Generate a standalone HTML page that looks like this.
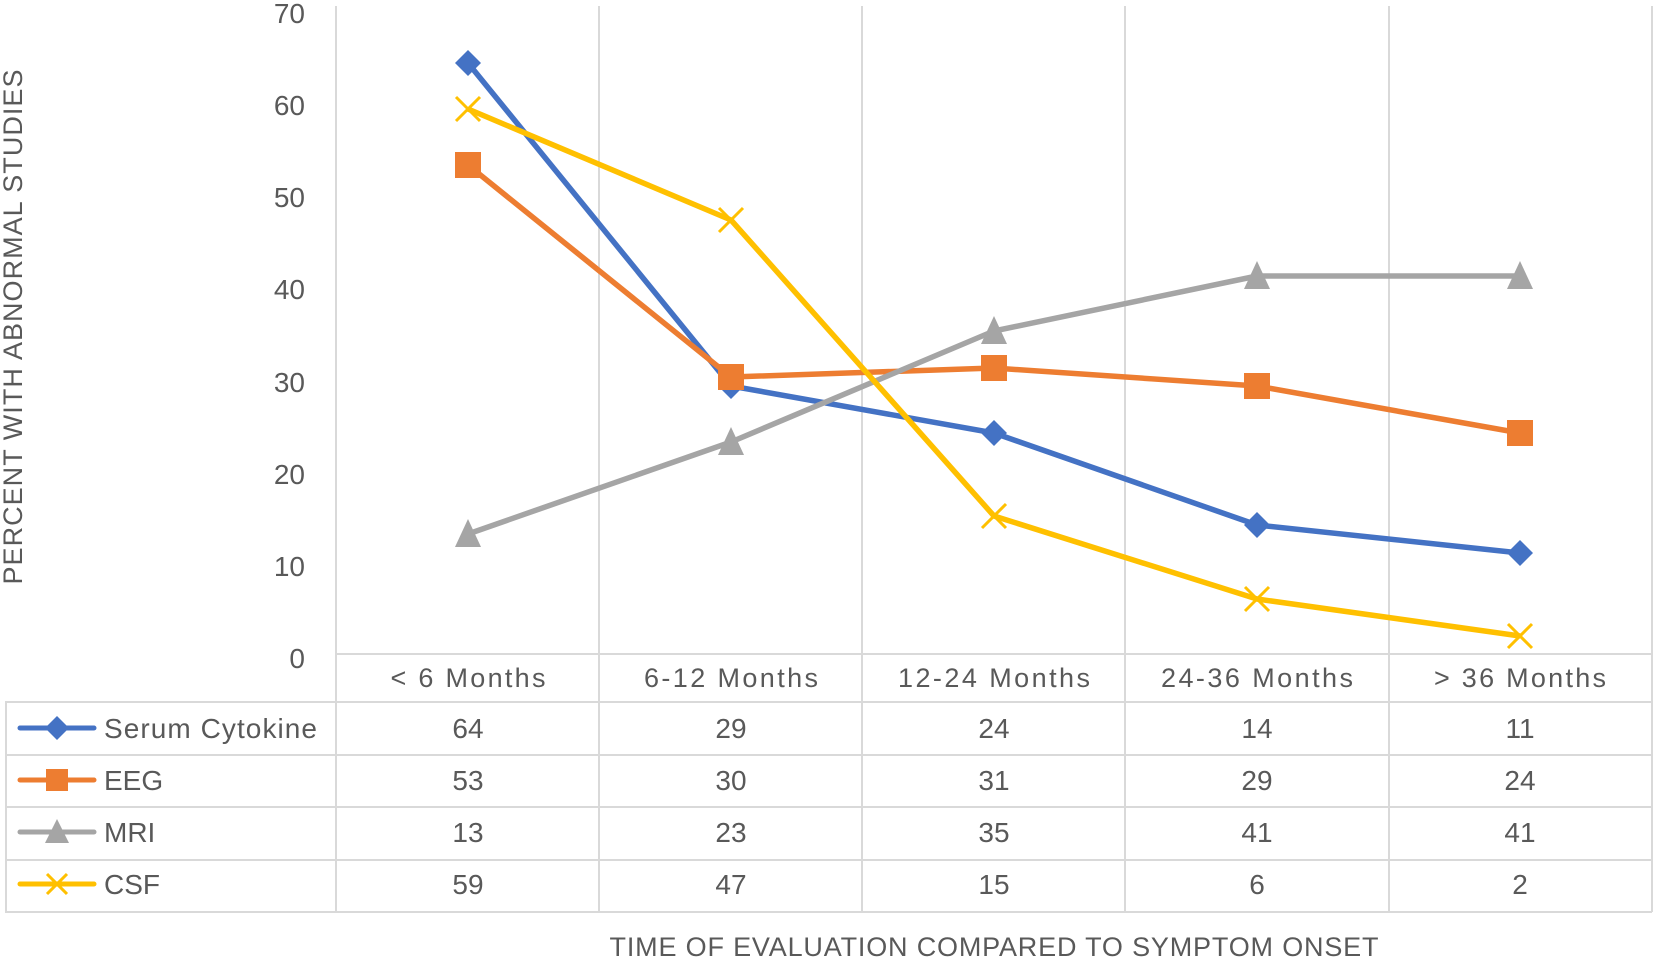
<!DOCTYPE html>
<html><head><meta charset="utf-8"><style>
html,body{margin:0;padding:0;background:#fff;}
svg{display:block;}
text{font-family:"Liberation Sans",sans-serif;fill:#595959;}
</style></head><body>
<svg width="1654" height="960" viewBox="0 0 1654 960">
<g stroke="#d9d9d9" stroke-width="2" fill="none">
<line x1="336" y1="6" x2="336" y2="912"/>
<line x1="599" y1="6" x2="599" y2="912"/>
<line x1="862" y1="6" x2="862" y2="912"/>
<line x1="1125" y1="6" x2="1125" y2="912"/>
<line x1="1389" y1="6" x2="1389" y2="912"/>
<line x1="1652" y1="6" x2="1652" y2="912"/>
<line x1="336" y1="654" x2="1652" y2="654"/>
<line x1="5" y1="702" x2="1652" y2="702"/>
<line x1="5" y1="755" x2="1652" y2="755"/>
<line x1="5" y1="807" x2="1652" y2="807"/>
<line x1="5" y1="860" x2="1652" y2="860"/>
<line x1="5" y1="912" x2="1652" y2="912"/>
<line x1="6" y1="702" x2="6" y2="912"/>
</g>
<g font-size="28" text-anchor="end">
<text x="305" y="23">70</text><text x="305" y="115">60</text><text x="305" y="207">50</text>
<text x="305" y="299">40</text><text x="305" y="392">30</text><text x="305" y="484">20</text>
<text x="305" y="576">10</text><text x="305" y="668">0</text>
</g>
<g font-size="28" text-anchor="middle">
<text x="468" y="687" textLength="155" font-size="27">&lt; 6 Months</text>
<text x="731" y="687" textLength="174" font-size="27">6-12 Months</text>
<text x="994" y="687" textLength="192" font-size="27">12-24 Months</text>
<text x="1257" y="687" textLength="192" font-size="27">24-36 Months</text>
<text x="1520" y="687" textLength="172" font-size="27">&gt; 36 Months</text>
<text x="468" y="738">64</text><text x="731" y="738">29</text><text x="994" y="738">24</text><text x="1257" y="738">14</text><text x="1520" y="738">11</text>
<text x="468" y="790">53</text><text x="731" y="790">30</text><text x="994" y="790">31</text><text x="1257" y="790">29</text><text x="1520" y="790">24</text>
<text x="468" y="842">13</text><text x="731" y="842">23</text><text x="994" y="842">35</text><text x="1257" y="842">41</text><text x="1520" y="842">41</text>
<text x="468" y="894">59</text><text x="731" y="894">47</text><text x="994" y="894">15</text><text x="1257" y="894">6</text><text x="1520" y="894">2</text>
<text x="994" y="956" textLength="769" font-size="27">TIME OF EVALUATION COMPARED TO SYMPTOM ONSET</text>
</g>
<text font-size="27" text-anchor="middle" transform="translate(22,327) rotate(-90)" textLength="515">PERCENT WITH ABNORMAL STUDIES</text>
<g font-size="28">
<text x="104" y="738" textLength="213">Serum Cytokine</text>
<text x="104" y="790">EEG</text>
<text x="104" y="842">MRI</text>
<text x="104" y="894">CSF</text>
</g>
<g stroke-width="5" stroke-linecap="round">
<line x1="20" y1="728" x2="94" y2="728" stroke="#4472c4"/>
<line x1="20" y1="780" x2="94" y2="780" stroke="#ed7d31"/>
<line x1="20" y1="832" x2="94" y2="832" stroke="#a5a5a5"/>
<line x1="20" y1="884" x2="94" y2="884" stroke="#ffc000"/>
</g>
<polygon points="57,716 69,728 57,740 45,728" fill="#4472c4"/>
<rect x="46" y="769" width="22" height="22" fill="#ed7d31"/>
<polygon points="57,819 69,843 45,843" fill="#a5a5a5"/>
<path d="M47,874 L67,894 M67,874 L47,894" stroke="#ffc000" stroke-width="3"/>
<g fill="none" stroke-width="5.5" stroke-linejoin="round">
<polyline stroke="#4472c4" points="468,63 731,386 994,433 1257,525 1520,553"/>
<polyline stroke="#ed7d31" points="468,165 731,377 994,368 1257,386 1520,433"/>
<polyline stroke="#a5a5a5" points="468,534 731,442 994,331 1257,276 1520,276"/>
<polyline stroke="#ffc000" points="468,109 731,220 994,516 1257,599 1520,636"/>
</g>
<g fill="#4472c4">
<polygon points="468,50 481,63 468,76 455,63"/><polygon points="731,373 744,386 731,399 718,386"/>
<polygon points="994,420 1007,433 994,446 981,433"/><polygon points="1257,512 1270,525 1257,538 1244,525"/>
<polygon points="1520,540 1533,553 1520,566 1507,553"/>
</g>
<g fill="#ed7d31">
<rect x="455" y="152" width="26" height="26"/><rect x="718" y="364" width="26" height="26"/>
<rect x="981" y="355" width="26" height="26"/><rect x="1244" y="373" width="26" height="26"/>
<rect x="1507" y="420" width="26" height="26"/>
</g>
<g fill="#a5a5a5">
<polygon points="468,519 481,547 455,547"/><polygon points="731,427 744,455 718,455"/>
<polygon points="994,316 1007,344 981,344"/><polygon points="1257,261 1270,289 1244,289"/>
<polygon points="1520,261 1533,289 1507,289"/>
</g>
<g stroke="#ffc000" stroke-width="3">
<path d="M456,97 L480,121 M480,97 L456,121"/><path d="M719,208 L743,232 M743,208 L719,232"/>
<path d="M982,504 L1006,528 M1006,504 L982,528"/><path d="M1245,587 L1269,611 M1269,587 L1245,611"/>
<path d="M1508,624 L1532,648 M1532,624 L1508,648"/>
</g>
</svg>
</body></html>
